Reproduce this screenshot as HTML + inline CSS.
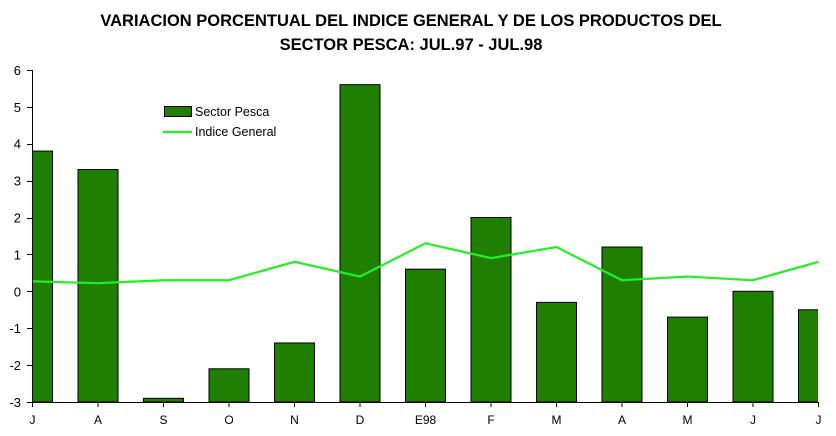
<!DOCTYPE html><html><head><style>body{margin:0;background:#fff}svg{display:block}text{font-family:"Liberation Sans",Arial,sans-serif}</style></head><body>
<svg width="836" height="436" xmlns="http://www.w3.org/2000/svg">
<text x="411" y="26" text-anchor="middle" font-size="16.5" font-weight="bold">VARIACION PORCENTUAL DEL INDICE GENERAL Y DE LOS PRODUCTOS DEL</text>
<text x="411" y="50" text-anchor="middle" font-size="16.5" font-weight="bold">SECTOR PESCA: JUL.97 - JUL.98</text>
<defs><clipPath id="c"><rect x="32" y="60" width="786" height="343"/></clipPath></defs>
<g id="bars" clip-path="url(#c)" fill="#1f7f00" stroke="#000" stroke-width="1"></g>
<g font-size="13" text-anchor="end" id="yl"></g>
<g font-size="12" text-anchor="middle" id="xl"></g>
<path id="ln" fill="none" stroke="#22f022" stroke-width="2.2"/>
<line x1="32.5" y1="70" x2="32.5" y2="402" stroke="#000"/>
<line x1="32" y1="402.5" x2="819" y2="402.5" stroke="#000"/>
<g id="tk" stroke="#000"></g>
<rect x="164.5" y="106.5" width="27" height="10" fill="#1f7f00" stroke="#000"/>
<text x="195" y="116" font-size="12.5">Sector Pesca</text>
<line x1="163" y1="132" x2="192" y2="132" stroke="#22f022" stroke-width="2.2"/>
<text x="195" y="136" font-size="12.5">Indice General</text>
<script>
var ns="http://www.w3.org/2000/svg";
function el(n,a,p,t){var e=document.createElementNS(ns,n);for(var k in a)e.setAttribute(k,a[k]);if(t!=null)e.textContent=t;document.getElementById(p).appendChild(e);return e;}
function Y(v){return 291.3-v*36.9;}
var labs=["J","A","S","O","N","D","E98","F","M","A","M","J","J"];
var bars=[3.8,3.3,-2.9,-2.1,-1.4,5.6,0.6,2.0,-0.3,1.2,-0.7,0.0,-0.5];
var line=[0.27,0.22,0.3,0.3,0.8,0.4,1.3,0.9,1.2,0.3,0.4,0.3,0.8];
var d="";
for(var i=0;i<13;i++){var x=32.5+i*65.5;
el("rect",{x:x-20,y:Y(bars[i]),width:40,height:402-Y(bars[i])},"bars");
el("text",{x:x,y:424},"xl",labs[i]);
el("line",{x1:x,y1:402,x2:x,y2:407},"tk");
d+=(i?"L":"M")+x+","+Y(line[i]);}
document.getElementById("ln").setAttribute("d",d);
for(var v=6;v>=-3;v--){var y=Y(v);el("text",{x:21,y:y+5},"yl",v);el("line",{x1:27,y1:Math.round(y)+.5,x2:32,y2:Math.round(y)+.5},"tk");}
</script>
</svg></body></html>
